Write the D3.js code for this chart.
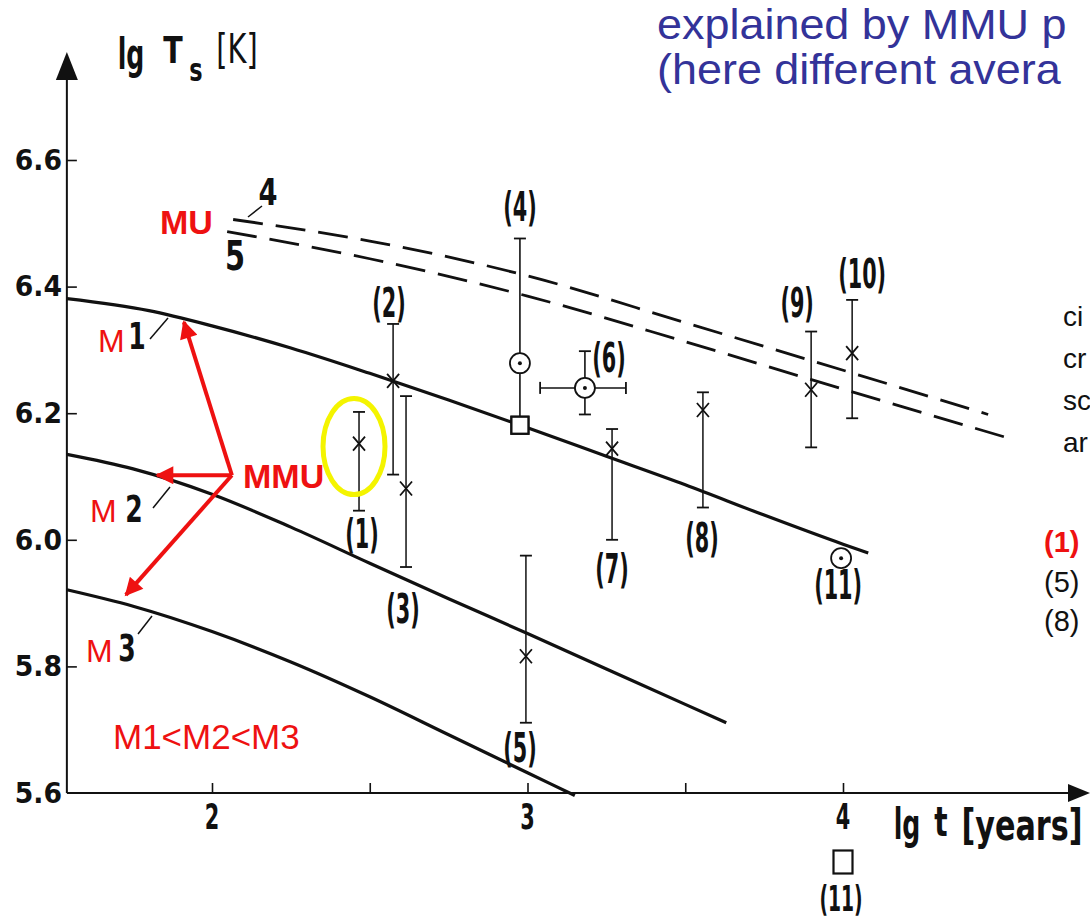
<!DOCTYPE html>
<html>
<head>
<meta charset="utf-8">
<script src="https://cdn.jsdelivr.net/npm/d3@7/dist/d3.min.js"></script>
<style>
  html, body { margin: 0; padding: 0; background: #fff; }
  svg { display: block; overflow: hidden; }
</style>
</head>
<body>
<svg id="chart" width="1090" height="922"></svg>
<script>
// ---- Axis ticks ----
const yTicks = [5.6, 5.8, 6.0, 6.2, 6.4, 6.6];
const yTickLabels = ["5.6", "5.8", "6.0", "6.2", "6.4", "6.6"];
const xMajorTicks = [2, 3, 4];
const xTickLabels = ["2", "3", "4"];
const xMinorTicks = [2.5, 3.5];

// ---- Cooling curves (lg t, lg Ts) ----
const m1LgT = [1.54, 1.8, 2.0, 2.25, 2.5, 2.75, 3.0, 3.25, 3.5, 3.75, 4.0, 4.08];
const m1LgTs = [6.381, 6.362, 6.338, 6.303, 6.263, 6.221, 6.177, 6.132, 6.087, 6.039, 5.993, 5.979];
const m2LgT = [1.54, 1.75, 2.0, 2.25, 2.5, 2.75, 3.0, 3.25, 3.5, 3.63];
const m2LgTs = [6.135, 6.112, 6.072, 6.020, 5.963, 5.907, 5.852, 5.796, 5.740, 5.711];
const m3LgT = [1.54, 1.75, 2.0, 2.25, 2.5, 2.75, 3.0, 3.15];
const m3LgTs = [5.921, 5.895, 5.855, 5.807, 5.752, 5.692, 5.632, 5.596];
const c4LgT = [2.067, 2.5, 3.0, 3.5, 3.9, 4.46];
const c4LgTs = [6.506, 6.472, 6.417, 6.343, 6.283, 6.198];
const c5LgT = [2.048, 2.5, 3.0, 3.5, 3.9, 4.536];
const c5LgTs = [6.487, 6.444, 6.385, 6.313, 6.253, 6.159];

// ---- Observed sources: crosses with vertical error bars ----
const crossIds = ["(1)", "(2)", "(3)", "(5)", "(7)", "(8)", "(9)", "(10)"];
const crossLgT = [2.466, 2.574, 2.615, 2.995, 3.268, 3.556, 3.899, 4.029];
const crossLgTs = [6.152, 6.251, 6.081, 5.816, 6.144, 6.205, 6.237, 6.295];
const crossLo = [6.046, 6.103, 5.957, 5.711, 6.000, 6.051, 6.146, 6.192];
const crossHi = [6.202, 6.341, 6.227, 5.975, 6.175, 6.233, 6.329, 6.379];

// ---- Circled-dot sources ----
const circIds = ["(4)", "(6)", "(11)"];
const circLgT = [2.976, 3.182, 3.994];
const circLgTs = [6.279, 6.240, 5.971];
const circLo = [6.181, 6.198, null];
const circHi = [6.476, 6.298, null];
const circXLo = [null, 3.04, null];
const circXHi = [null, 3.312, null];

// ---- Square sources ----
const sqIds = ["", "(11)"];
const sqLgT = [2.976, 4.0];
const sqLgTs = [6.181, 5.491];

// ---- Label offsets (px) for the numbered sources ----
const crossLabelOff = [[3, 24, "lo"], [-4, -21, "hi"], [-3, 42, "lo"], [-6, 25, "lo"], [0, 29, "lo"], [-1, 31, "lo"], [-14, -28, "hi"], [10, -26, "hi"]];
const circLabelOff = [[0, -31, "hi"], [24, -30, "c"], [-3, 27, "c"]];
const sqLabelOff = [null, [-2, 36]];

// ---- Scales ----
const x = d3.scaleLinear().domain([2, 4]).range([212, 843]);
const y = d3.scaleLinear().domain([5.6, 6.6]).range([793, 160]);
const x0 = 1.54;          // left end of the lg t axis

const svg = d3.select("#chart");
svg.append("rect").attr("width", 1090).attr("height", 922).attr("fill", "#fff");

const scanFont = "'DejaVu Sans', sans-serif";
const slideFont = "'Liberation Sans', Arial, sans-serif";

// condensed hand-lettered text
function ctext(sel, cx, cy, str, size, sx, opts = {}) {
  const g = sel.append("g").attr("transform", `translate(${cx},${cy}) scale(${sx},1)`);
  g.append("text")
    .attr("x", 0).attr("y", 0)
    .attr("text-anchor", opts.anchor || "middle")
    .attr("dominant-baseline", "central")
    .attr("font-family", scanFont)
    .attr("font-size", size)
    .attr("font-weight", opts.weight || "bold")
    .attr("fill", opts.fill || "#111")
    .text(str);
  return g;
}

// ---- Axes ----
const axisY0 = y(5.6);
const axisX0 = x(x0);
const ax = svg.append("g").attr("stroke", "#111").attr("fill", "none");
ax.append("line").attr("x1", axisX0).attr("x2", axisX0).attr("y1", axisY0).attr("y2", 78).attr("stroke-width", 2);
ax.append("line").attr("x1", axisX0).attr("x2", 1072).attr("y1", axisY0).attr("y2", axisY0).attr("stroke-width", 2.2);
svg.append("path").attr("d", `M${axisX0},52 L${axisX0 - 11},80 L${axisX0 + 11},80 Z`).attr("fill", "#111");
svg.append("path").attr("d", `M1090,${axisY0} L1068,${axisY0 - 9} L1068,${axisY0 + 9} Z`).attr("fill", "#111");

// tick marks through d3 axes
const yAxisG = svg.append("g").attr("transform", `translate(${axisX0},0)`)
  .call(d3.axisRight(y).tickValues(yTicks.slice(1)).tickSize(10).tickFormat(""));
yAxisG.select(".domain").remove();
yAxisG.selectAll("line").attr("stroke", "#111").attr("stroke-width", 1.6);

const xAxisG = svg.append("g").attr("transform", `translate(0,${axisY0})`)
  .call(d3.axisTop(x).tickValues(xMajorTicks.concat(xMinorTicks)).tickSize(10).tickFormat(""));
xAxisG.select(".domain").remove();
xAxisG.selectAll("line").attr("stroke", "#111").attr("stroke-width", 1.6);

// tick labels
yTicks.forEach((v, i) => {
  svg.append("text")
    .attr("x", 62).attr("y", y(v))
    .attr("text-anchor", "end").attr("dominant-baseline", "central")
    .attr("font-family", scanFont).attr("font-weight", "bold")
    .attr("font-size", 29).attr("fill", "#111")
    .attr("transform", `translate(62,0) scale(0.92,1) translate(-62,0)`)
    .text(yTickLabels[i]);
});
xMajorTicks.forEach((v, i) => {
  ctext(svg, x(v), 817, xTickLabels[i], 36, 0.58);
});

// axis titles
ctext(svg, 131, 54, "lg", 42, 0.6);
ctext(svg, 173, 50, "T", 38, 0.75);
ctext(svg, 196, 70, "s", 32, 0.7);
ctext(svg, 237, 49, "[K]", 40, 0.72, { weight: "normal" });
ctext(svg, 907, 824, "lg", 42, 0.6);
ctext(svg, 941, 822, "t", 40, 0.7);
ctext(svg, 1022, 826, "[years]", 42, 0.72);

// ---- Curves ----
const line = d3.line().x(d => x(d[0])).y(d => y(d[1])).curve(d3.curveMonotoneX);
const zip = (a, b) => a.map((v, i) => [v, b[i]]);
const curves = svg.append("g").attr("fill", "none").attr("stroke", "#111");
[[m1LgT, m1LgTs], [m2LgT, m2LgTs], [m3LgT, m3LgTs]].forEach(([a, b]) => {
  curves.append("path").attr("d", line(zip(a, b))).attr("stroke-width", 3.2);
});
[[c4LgT, c4LgTs], [c5LgT, c5LgTs]].forEach(([a, b]) => {
  curves.append("path").attr("d", line(zip(a, b)))
    .attr("stroke-width", 2.8).attr("stroke-dasharray", "30,13");
});

// dashed-curve labels
ctext(svg, 268, 192, "4", 38, 0.72);
svg.append("line").attr("x1", 248).attr("y1", 217).attr("x2", 262).attr("y2", 206).attr("stroke", "#111").attr("stroke-width", 1.5);
ctext(svg, 235, 256, "5", 40, 0.72);

// solid-curve labels
const mLabels = [
  { M: [98, 352], n: [137, 336], lead: [[150, 339], [168, 318]], num: "1" },
  { M: [90, 522], n: [134, 509], lead: [[153, 508], [170, 487]], num: "2" },
  { M: [86, 662], n: [127, 648], lead: [[138, 634], [152, 616]], num: "3" }
];
mLabels.forEach(l => {
  svg.append("text").attr("x", l.M[0]).attr("y", l.M[1])
    .attr("font-family", slideFont).attr("font-size", 32).attr("fill", "#ee1111").text("M");
  ctext(svg, l.n[0], l.n[1], l.num, 38, 0.66);
  svg.append("line").attr("x1", l.lead[0][0]).attr("y1", l.lead[0][1])
    .attr("x2", l.lead[1][0]).attr("y2", l.lead[1][1])
    .attr("stroke", "#111").attr("stroke-width", 1.5);
});

// ---- Error bars and markers ----
const marks = svg.append("g").attr("stroke", "#111").attr("fill", "none");
function vbar(px, lo, hi) {
  marks.append("line").attr("x1", px).attr("x2", px).attr("y1", y(lo)).attr("y2", y(hi)).attr("stroke-width", 1.5);
  [lo, hi].forEach(v => marks.append("line").attr("x1", px - 6).attr("x2", px + 6)
    .attr("y1", y(v)).attr("y2", y(v)).attr("stroke-width", 1.8));
}
function hbar(py, lo, hi) {
  marks.append("line").attr("x1", x(lo)).attr("x2", x(hi)).attr("y1", py).attr("y2", py).attr("stroke-width", 1.5);
  [lo, hi].forEach(v => marks.append("line").attr("x1", x(v)).attr("x2", x(v))
    .attr("y1", py - 6).attr("y2", py + 6).attr("stroke-width", 1.8));
}
function numLabel(px, py, str, size = 40) { ctext(svg, px, py, str, size, 0.52); }

crossIds.forEach((id, i) => {
  const px = x(crossLgT[i]), py = y(crossLgTs[i]);
  vbar(px, crossLo[i], crossHi[i]);
  marks.append("path").attr("d", `M${px - 6},${py - 7} L${px + 6},${py + 7} M${px + 6},${py - 7} L${px - 6},${py + 7}`)
    .attr("stroke-width", 1.8);
  const o = crossLabelOff[i];
  const ref = o[2] === "lo" ? y(crossLo[i]) : y(crossHi[i]);
  numLabel(px + o[0], ref + o[1], id);
});

sqIds.forEach((id, i) => {
  const px = x(sqLgT[i]), py = y(sqLgTs[i]);
  const w = i === 0 ? 17 : 19, h = i === 0 ? 17 : 23;
  marks.append("rect").attr("x", px - w / 2).attr("y", py - h / 2).attr("width", w).attr("height", h)
    .attr("fill", "#fff").attr("stroke-width", 2.2);
  if (sqLabelOff[i]) numLabel(px + sqLabelOff[i][0], py + sqLabelOff[i][1], id, 36);
});

circIds.forEach((id, i) => {
  const px = x(circLgT[i]), py = y(circLgTs[i]);
  if (circLo[i] != null) {
    const cap = i === 0 ? [circHi[i]] : [circLo[i], circHi[i]];
    marks.append("line").attr("x1", px).attr("x2", px).attr("y1", y(circLo[i])).attr("y2", y(circHi[i])).attr("stroke-width", 1.6);
    cap.forEach(v => marks.append("line").attr("x1", px - 6).attr("x2", px + 6).attr("y1", y(v)).attr("y2", y(v)).attr("stroke-width", 1.8));
  }
  if (circXLo[i] != null) hbar(py, circXLo[i], circXHi[i]);
  marks.append("circle").attr("cx", px).attr("cy", py).attr("r", 10).attr("fill", "#fff").attr("stroke-width", 1.8);
  marks.append("circle").attr("cx", px).attr("cy", py).attr("r", 2).attr("fill", "#111").attr("stroke", "none");
  const o = circLabelOff[i];
  const ref = o[2] === "hi" ? y(circHi[i]) : py;
  numLabel(px + o[0], ref + o[1], id);
});
// redraw the (4) square on top of its error bar
marks.append("rect").attr("x", x(sqLgT[0]) - 8.5).attr("y", y(sqLgTs[0]) - 8.5).attr("width", 17).attr("height", 17)
  .attr("fill", "#fff").attr("stroke-width", 2.2);

// ---- Slide annotations ----
const red = "#ee1111";
// highlight around source (1)
svg.append("ellipse").attr("cx", x(crossLgT[0]) - 5).attr("cy", y(crossLgTs[0]) + 3)
  .attr("rx", 31).attr("ry", 48).attr("fill", "none").attr("stroke", "#f4f400").attr("stroke-width", 5);

// MMU arrows to the three mass curves
const mmuFrom = [2.063, 6.102];
const mmuTo = [[1.911, 6.344], [1.826, 6.102], [1.727, 5.913]];
const defs = svg.append("defs");
defs.append("marker").attr("id", "ah").attr("viewBox", "0 0 10 10").attr("refX", 9).attr("refY", 5)
  .attr("markerWidth", 5).attr("markerHeight", 4.5).attr("orient", "auto")
  .append("path").attr("d", "M0,0 L10,5 L0,10 Z").attr("fill", red);
mmuTo.forEach(t => {
  svg.append("line").attr("x1", x(mmuFrom[0])).attr("y1", y(mmuFrom[1]))
    .attr("x2", x(t[0])).attr("y2", y(t[1]))
    .attr("stroke", red).attr("stroke-width", 4).attr("marker-end", "url(#ah)");
});
svg.append("text").attr("x", 243).attr("y", 488).attr("font-family", slideFont).attr("font-weight", "bold")
  .attr("font-size", 34).attr("fill", red).text("MMU");
svg.append("text").attr("x", 160).attr("y", 234).attr("font-family", slideFont).attr("font-weight", "bold")
  .attr("font-size", 34).attr("fill", red).text("MU");
svg.append("text").attr("x", 113).attr("y", 749).attr("font-family", slideFont)
  .attr("font-size", 35).attr("fill", red).text("M1<M2<M3");

// slide heading
const blue = "#333399";
[["explained by MMU p", 39], ["(here different avera", 84]].forEach(([s, by]) => {
  svg.append("g").attr("transform", `translate(657,${by}) scale(1.07,1)`)
    .append("text").attr("x", 0).attr("y", 0).attr("font-family", slideFont)
    .attr("font-size", 42).attr("fill", blue).text(s);
});

// side notes
const side = ["ci", "cr", "sc", "ar"];
side.forEach((s, i) => {
  svg.append("text").attr("x", 1063).attr("y", 326 + i * 42).attr("font-family", slideFont)
    .attr("font-size", 28).attr("fill", "#111").text(s);
});
svg.append("text").attr("x", 1044).attr("y", 552).attr("font-family", slideFont).attr("font-weight", "bold")
  .attr("font-size", 29).attr("fill", red).text("(1)");
svg.append("text").attr("x", 1044).attr("y", 592).attr("font-family", slideFont)
  .attr("font-size", 29).attr("fill", "#111").text("(5)");
svg.append("text").attr("x", 1044).attr("y", 631).attr("font-family", slideFont)
  .attr("font-size", 29).attr("fill", "#111").text("(8)");
</script>
</body>
</html>
